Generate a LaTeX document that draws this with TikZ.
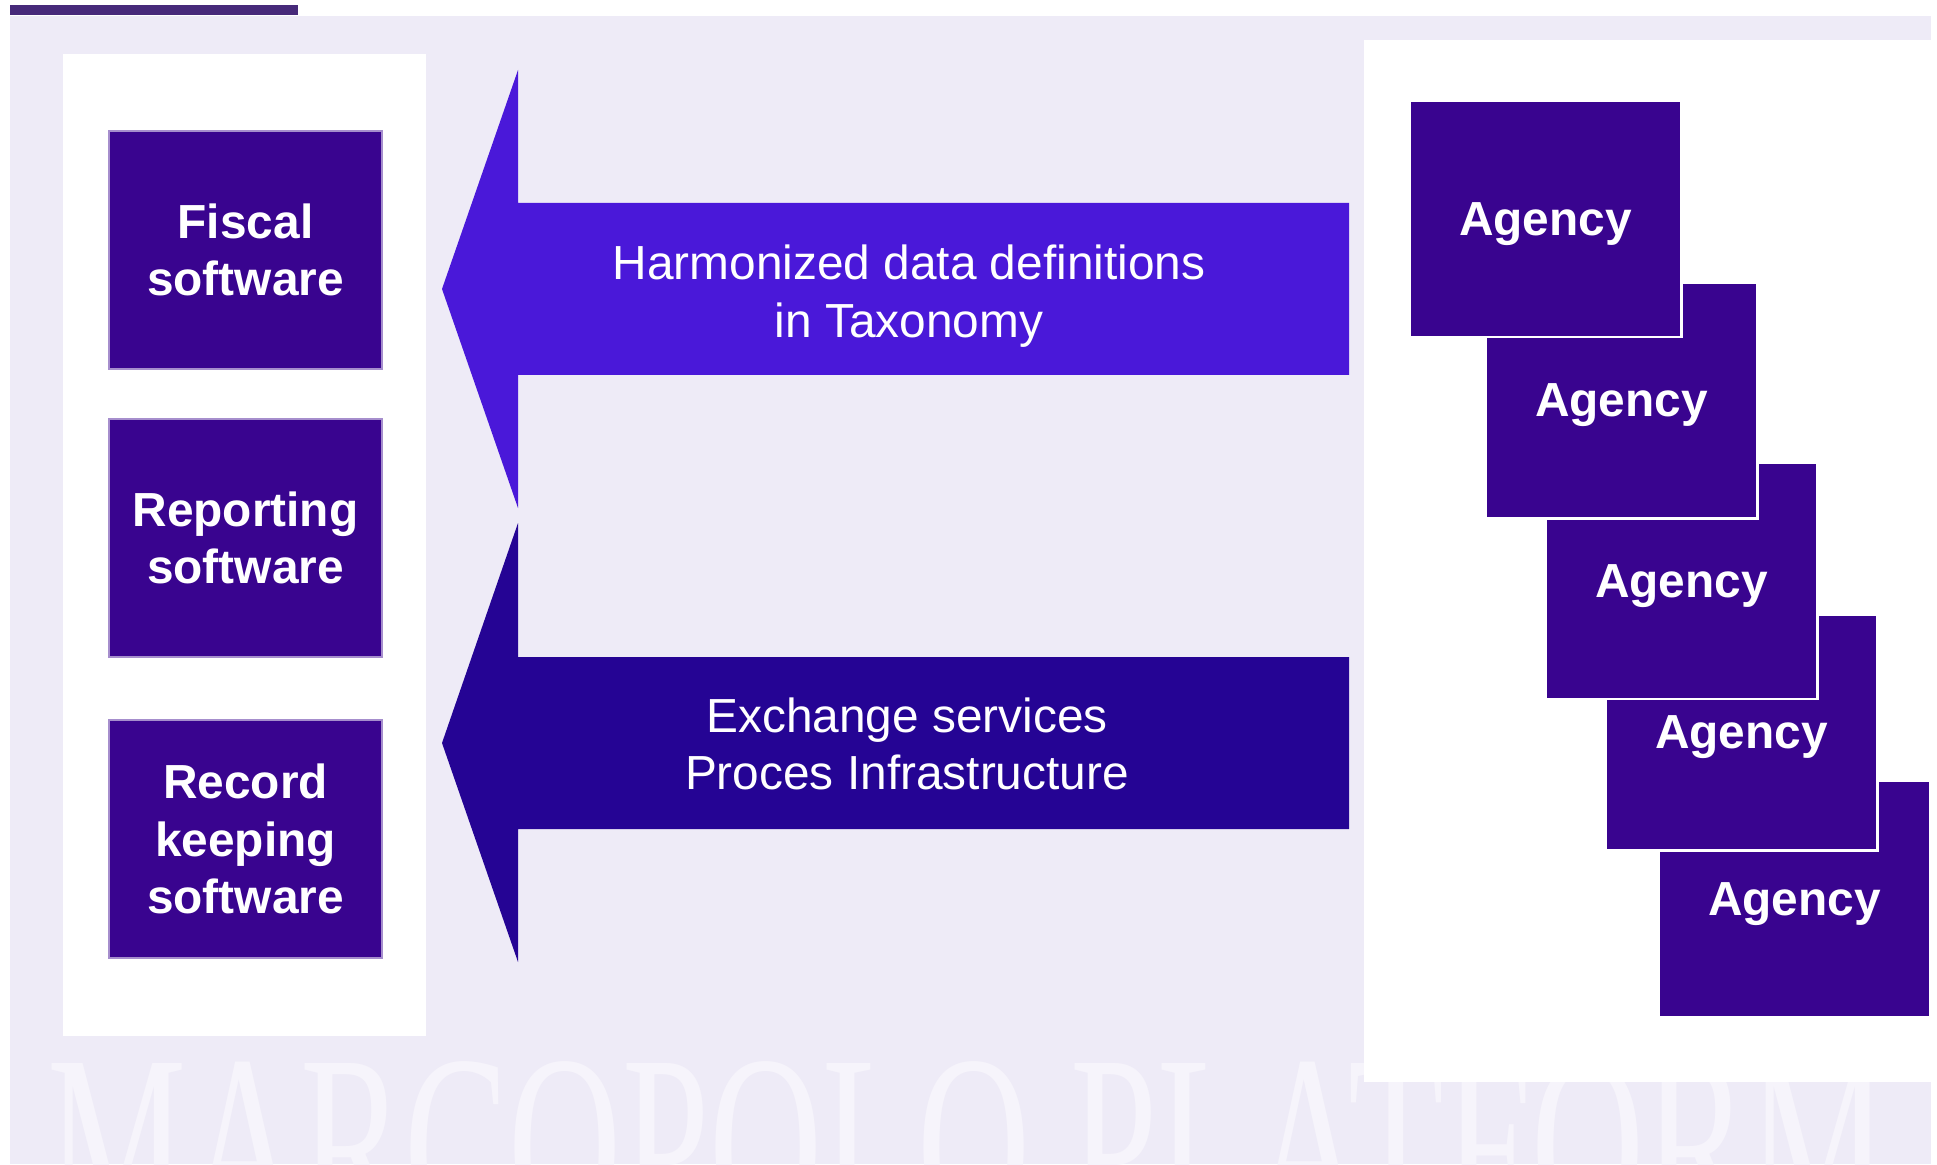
\documentclass[tikz,border=0pt]{standalone}
\usepackage{fontspec}
\setmainfont{Liberation Sans}
\newfontfamily\markfont{Liberation Serif}
\usepackage{tikz}

\definecolor{pagebg}{HTML}{EEEBF7}
\definecolor{topbar}{HTML}{472A7A}
\definecolor{boxfill}{HTML}{39048F}
\definecolor{harmfill}{HTML}{4A18D9}
\definecolor{exchfill}{HTML}{250494}

\tikzset{
  swbox/.style = {fill = boxfill, draw = white!55!boxfill, line width = 0.6pt,
    minimum width = 2.73cm, minimum height = 2.37cm, inner sep = 0pt,
    text = white, align = center, font = \fontsize{13.6}{16.3}\selectfont\bfseries},
  agencybox/.style = {fill = boxfill, draw = white, line width = 0.8pt,
    minimum width = 2.71cm, minimum height = 2.36cm, inner sep = 0pt, text depth = 0pt,
    text = white, font = \fontsize{13.6}{16.3}\selectfont\bfseries},
  arrowtext/.style = {text = white, align = center, font = \fontsize{13.6}{16.3}\selectfont}
}

\begin{document}
\begin{tikzpicture}[x = 0.01cm, y = -0.01cm]
            \useasboundingbox (0,0) rectangle (1937,1164);
            
            \fill[pagebg] (10,16) rectangle (1931,1164);
            \fill[topbar] (10,5) rectangle (298,15);
            
            \begin{scope}
                \clip (10,16) rectangle (1931,1164);
                \node[anchor = base, xscale = 0.61, text = white!45!pagebg,
                      font = \fontsize{73}{73}\markfont] (mark) at (968,1231) {MARCOPOLO PLATFORM};
            \end{scope}
            
            \fill[white] (63,54) rectangle (426,1036);
            \fill[white] (1364,40) rectangle (1931,1082);
            
            \node[swbox] (fiscal) at (245.5,250) {Fiscal\\software};
            \node[swbox] (reporting) at (245.5,538) {Reporting\\software};
            \node[swbox] (record) at (245.5,839) {Record\\keeping\\software};
            
            \fill[harmfill] (442,289) -- (518,70) -- (518,203) -- (1349,203)
                -- (1349,375) -- (518,375) -- (518,508) -- cycle;
            \fill[exchfill] (442,743) -- (518,523) -- (518,657) -- (1349,657)
                -- (1349,829) -- (518,829) -- (518,962) -- cycle;
            
            \node[arrowtext] (harmonized) at (909,296) {Harmonized data definitions\\in Taxonomy};
            \node[arrowtext] (exchange) at (907,744) {Exchange services\\Proces Infrastructure};
            
            \foreach \n/\x/\y in {5/1794.5/899, 4/1741.5/732.5, 3/1681.5/581,
                                  2/1621.5/400.5, 1/1545.5/219}
                \node[agencybox] (agency\n) at (\x,\y) {Agency};
        \end{tikzpicture}
\end{document}
